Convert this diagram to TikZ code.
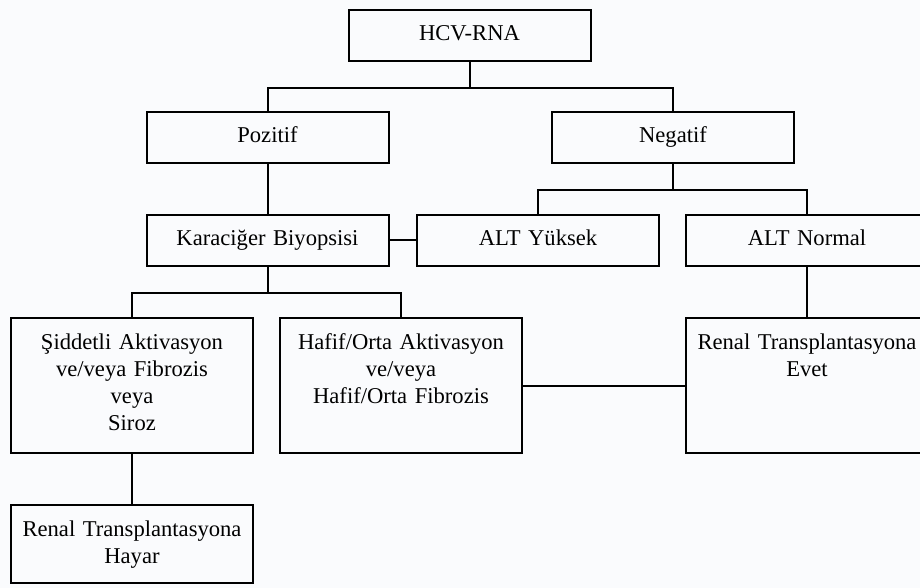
\documentclass[tikz,border=0pt]{standalone}
\usepackage{fontspec}
\setmainfont{Liberation Serif}
\usepackage{tikz}

\begin{document}
\begin{tikzpicture}[x=0.5pt,y=-0.5pt,line width=1pt,
  font=\fontsize{11.3}{13.5}\selectfont,
  box/.style={draw,rectangle,minimum width=121pt,text width=121pt,align=center,
    inner xsep=0pt,inner ysep=7.5pt,text height=8pt,text depth=#1},
  box/.default=2.5pt]
  \useasboundingbox[fill={rgb,255:red,250;green,251;blue,253}] (0,0) rectangle (920,588);
  \clip (0,0) rectangle (920,588);

  \node[box] (HCV) at (469.5,35.5) {HCV-RNA};
  \node[box] (Pozitif) at (267.5,137.5) {Pozitif};
  \node[box] (Negatif) at (673,137.5) {Negatif};
  \node[box] (Karaciger) at (267.5,240.5) {Karaciğer Biyopsisi};
  \node[box] (ALTYuksek) at (538,240.5) {ALT Yüksek};
  \node[box] (ALTNormal) at (807,240.5) {ALT Normal};
  \node[box=44.5pt] (Siddetli) at (132,385.5)
    {Şiddetli Aktivasyon\\ve/veya Fibrozis\\veya\\Siroz};
  \node[box=44.5pt] (Hafif) at (401,385.5)
    {Hafif/Orta Aktivasyon\\ve/veya\\Hafif/Orta Fibrozis};
  \node[box=44.5pt] (Evet) at (807,385.5) {Renal Transplantasyona\\Evet};
  \node[box=16pt] (Hayar) at (132,544) {Renal Transplantasyona\\Hayar};

  \draw (HCV.south) -- ++(0,26) -| (Pozitif.north);
  \draw (HCV.south) -- ++(0,26) -| (Negatif.north);
  \draw (Pozitif.south) -- (Karaciger.north);
  \draw (Karaciger.east) -- (ALTYuksek.west);
  \draw (Negatif.south) -- ++(0,26) -| (ALTYuksek.north);
  \draw (Negatif.south) -- ++(0,26) -| (ALTNormal.north);
  \draw (Karaciger.south) -- ++(0,26) -| (Siddetli.north);
  \draw (Karaciger.south) -- ++(0,26) -| (Hafif.north);
  \draw (ALTNormal.south) -- (Evet.north);
  \draw (Hafif.east) -- (Evet.west);
  \draw (Siddetli.south) -- (Hayar.north);
\end{tikzpicture}
\end{document}
